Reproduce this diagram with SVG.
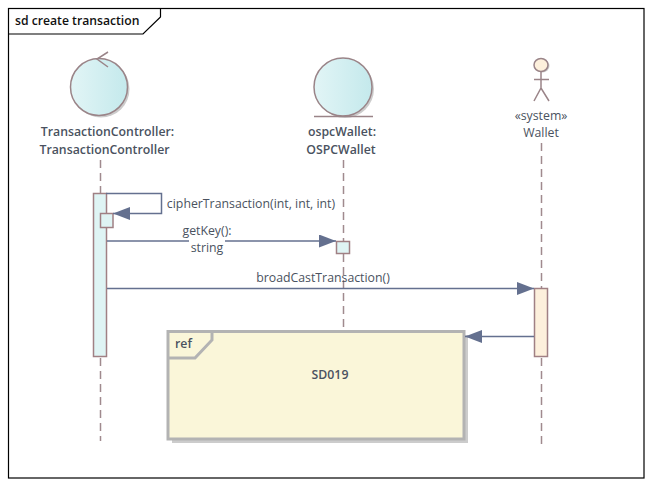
<svg xmlns="http://www.w3.org/2000/svg" width="652" height="487" viewBox="0 0 652 487">
<style>
text{font-family:"Open Sans","Noto Sans","Liberation Sans",sans-serif;font-size:12.3px;fill:#4a5260;text-anchor:middle}
.b{font-weight:600}
.ll{fill:none;stroke:#a08a8e;stroke-width:1.5;stroke-dasharray:8 5}
.n{stroke:#9a8488;stroke-width:1.5}
.act{fill:#dff4f4;stroke:#a08084;stroke-width:1.5}
.msg{fill:none;stroke:#64708f;stroke-width:1.5}
.sh{fill:#000;opacity:.2}
</style>
<defs>
<linearGradient id="g" x1="0" x2="1" y1="0" y2="0"><stop offset="0" stop-color="#e2f5f6"/><stop offset="1" stop-color="#c4e9ec"/></linearGradient>
<marker id="a" markerUnits="userSpaceOnUse" markerWidth="18" markerHeight="14" refX="17" refY="6.5" orient="auto"><path d="M0 0L17 6.5L0 13z" fill="#64708f"/></marker>
</defs>
<rect width="652" height="487" fill="#fff"/>
<g id="frame">
<rect x="8.5" y="8.5" width="635.5" height="469.5" fill="none" stroke="#000" stroke-width="1.2"/>
<path d="M8.5 34H143L160.5 17V8.5" fill="none" stroke="#000" stroke-width="1.2"/>
<text x="15" y="25" class="b" style="text-anchor:start;fill:#111;font-size:12.2px">sd create transaction</text>
</g>
<g id="lifelines">
<path class="ll" d="M100.5 160V193M100.5 358V441"/>
<path class="ll" d="M343.5 160V241M343.5 254V331"/>
<path class="ll" d="M541.5 143V288M541.5 358V447"/>
</g>
<g id="TransactionController">
<circle class="sh" cx="101" cy="89" r="28.5"/>
<circle class="n" cx="99" cy="87" r="28.5" fill="url(#g)"/>
<path class="n" fill="none" d="M108 52L97 59L108 67"/>
<text x="107.500" y="136" class="b">TransactionController:</text>
<text x="104.500" y="154" class="b">TransactionController</text>
</g>
<g id="ospcWallet">
<circle class="sh" cx="345" cy="89" r="29"/>
<circle class="n" cx="343" cy="87" r="29" fill="url(#g)"/>
<path class="n" d="M314 116.500H373"/>
<text x="342" y="136" class="b">ospcWallet:</text>
<text x="341" y="154" class="b">OSPCWallet</text>
</g>
<g id="Wallet">
<ellipse class="sh" cx="542.500" cy="66" rx="7" ry="6.500"/>
<ellipse class="n" cx="541" cy="65" rx="7" ry="6.500" fill="#fdf0dc"/>
<path class="n" fill="none" d="M541 71.500V88M534 79.500H549M534 101L541 88L549 101"/>
<text x="541" y="120">«system»</text>
<text x="541" y="137">Wallet</text>
</g>
<g id="activations">
<rect class="act" x="93.500" y="193.500" width="13" height="163"/>
<rect class="act" x="100.500" y="213.500" width="12.500" height="14"/>
<rect class="act" x="336.500" y="241.500" width="13" height="12"/>
<rect x="534.500" y="288.500" width="13" height="68" fill="#fdf0dc" stroke="#a08084" stroke-width="1.5"/>
</g>
<g id="ref">
<rect x="172" y="335" width="296" height="108" fill="#ccc"/>
<rect x="168" y="331.500" width="296" height="107.500" fill="#faf6d9" stroke="#b3b3b3" stroke-width="3"/>
<path d="M168 358H195L212 340V331.500" fill="none" stroke="#b3b3b3" stroke-width="3"/>
<text x="175" y="348" class="b" style="text-anchor:start">ref</text>
<text x="330" y="379" class="b">SD019</text>
</g>
<g id="connectors">
<path class="msg" marker-end="url(#a)" d="M106 193.500H161.500V213.500H113"/>
<path class="msg" marker-end="url(#a)" d="M107 241H336"/>
<rect x="189" y="236" width="36" height="10" fill="#fff"/>
<path class="msg" marker-end="url(#a)" d="M107 288.500H534"/>
<path class="msg" marker-end="url(#a)" d="M534 336.500H465"/>
<text x="251" y="208">cipherTransaction(int, int, int)</text>
<text x="207" y="235">getKey():</text>
<text x="207" y="252">string</text>
<text x="323" y="282">broadCastTransaction()</text>
</g>
</svg>
